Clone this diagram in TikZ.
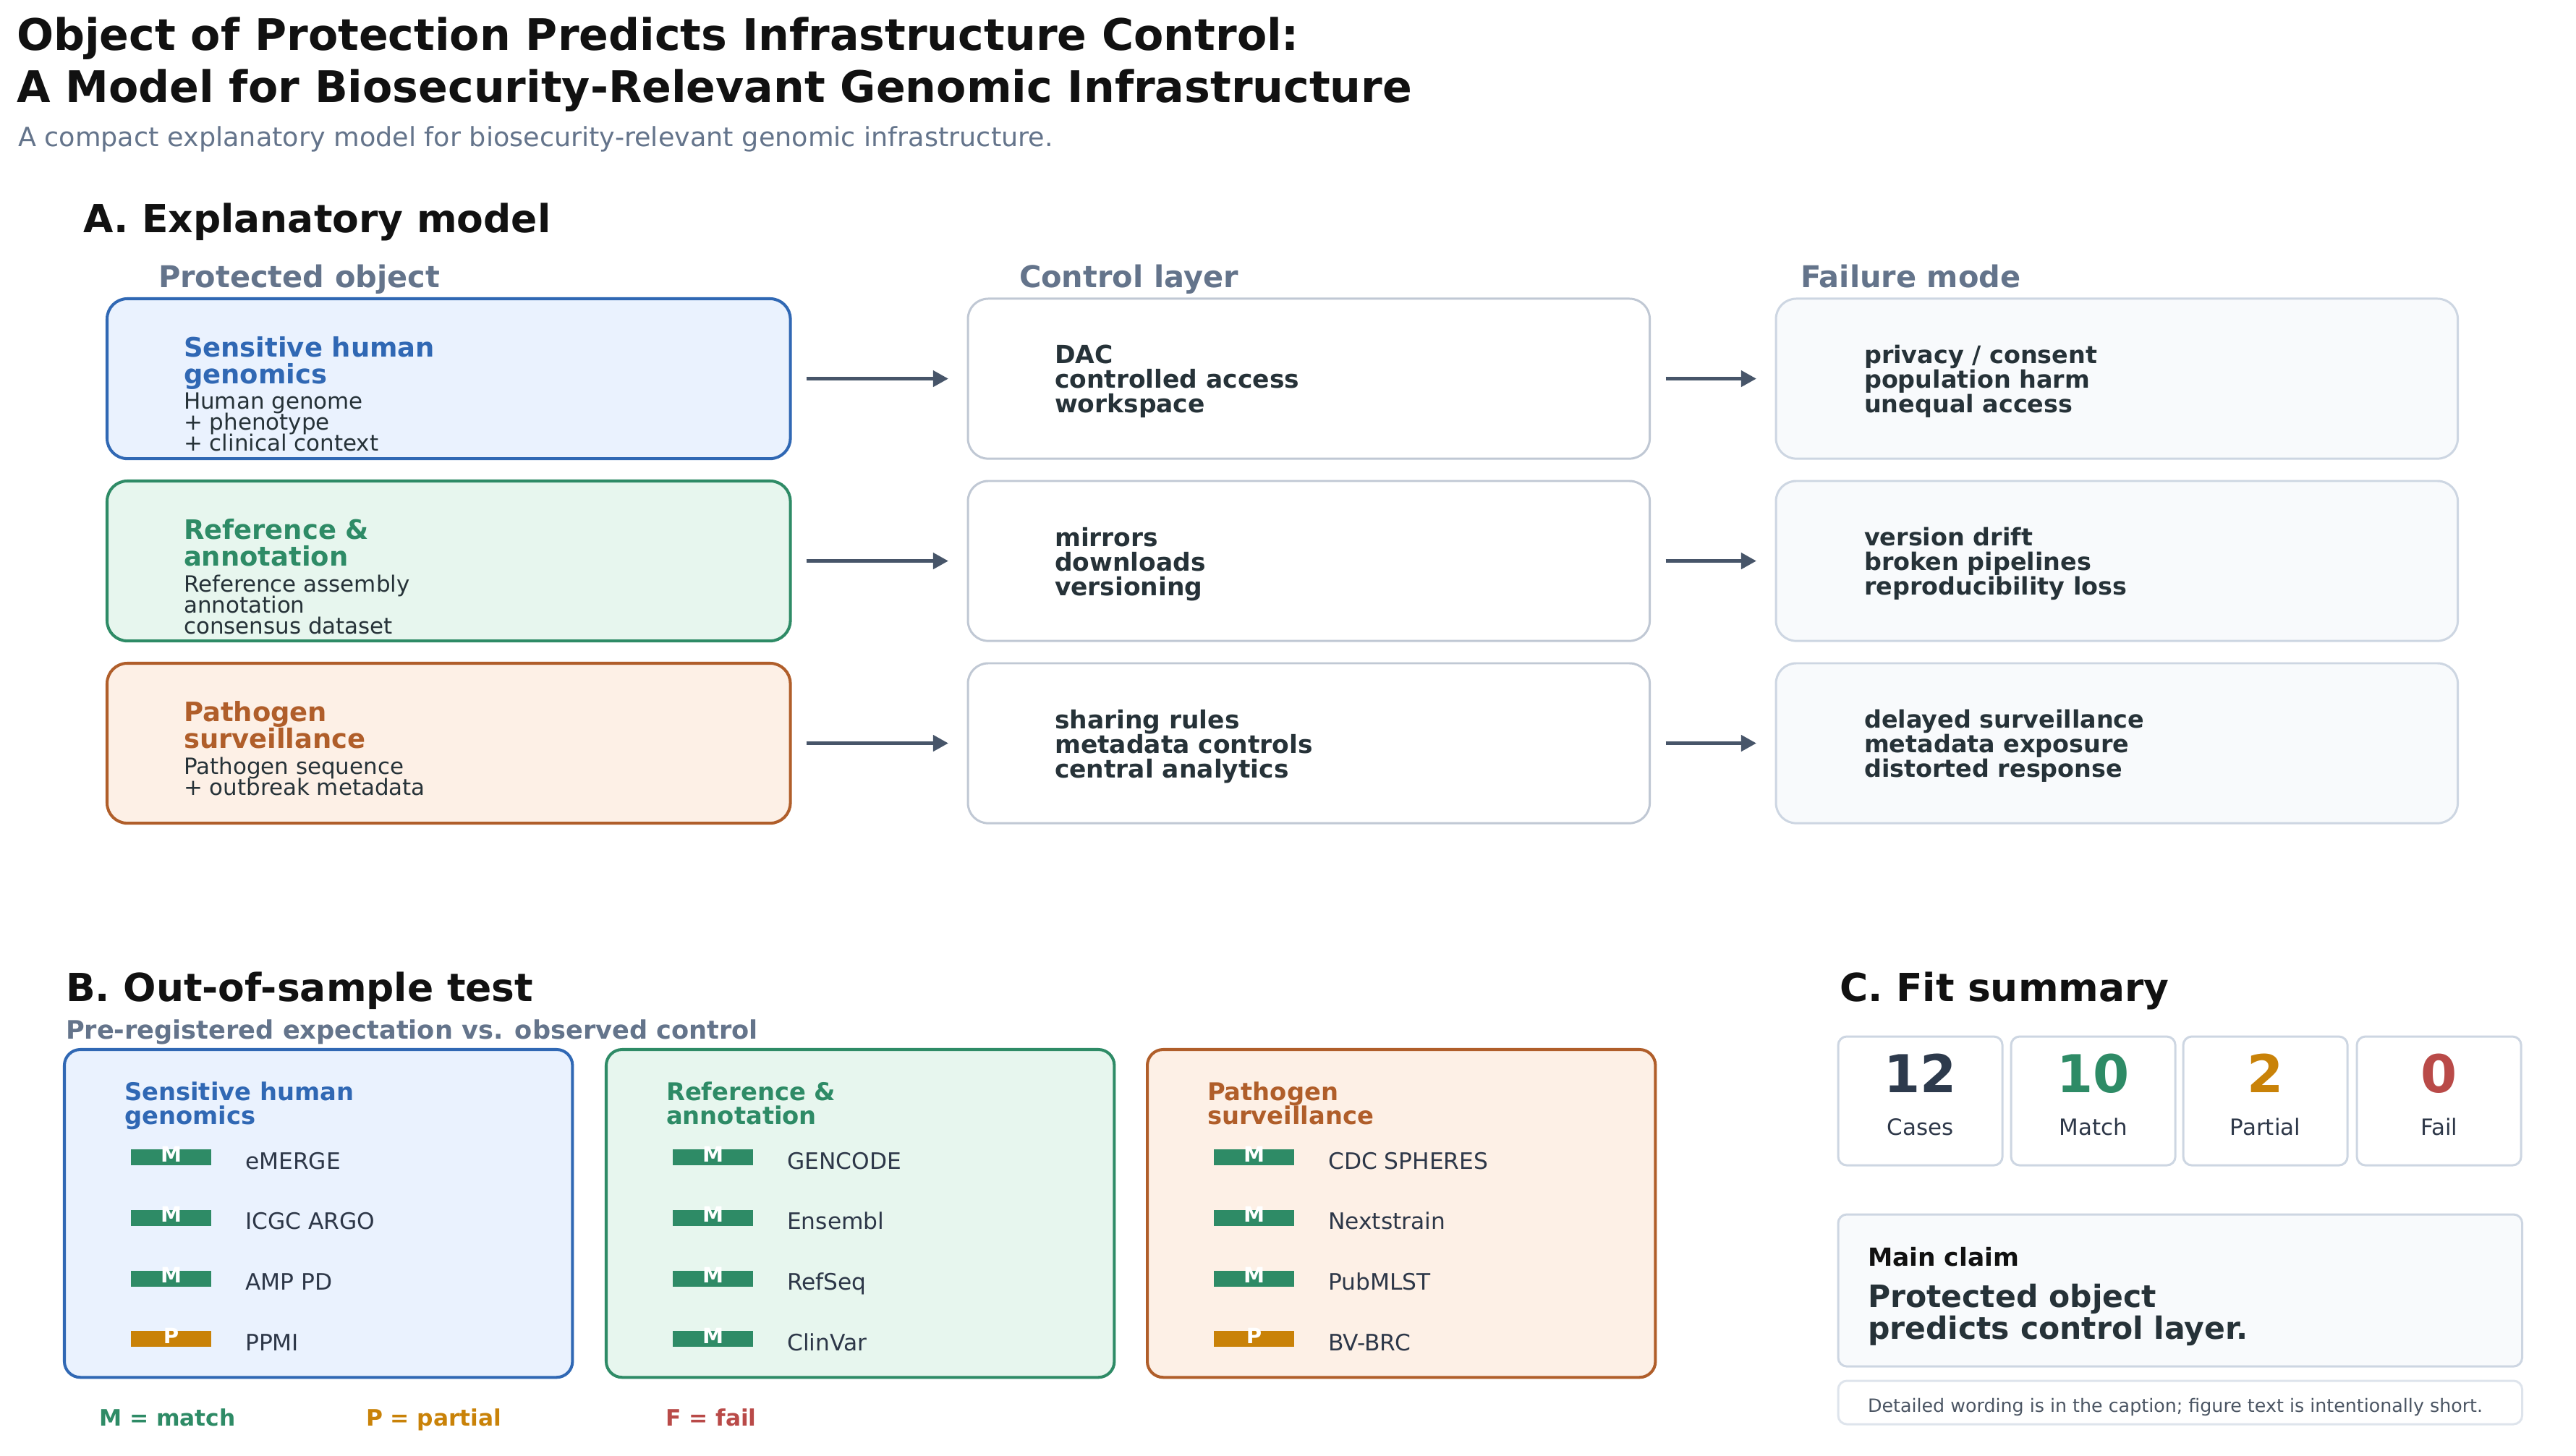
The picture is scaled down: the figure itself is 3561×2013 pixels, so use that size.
\documentclass[tikz,border=0pt]{standalone}
\usepackage{fontspec}
\setmainfont{DejaVu Sans}
\definecolor{noir}{RGB}{17,17,17}
\definecolor{encre}{RGB}{38,50,56}
\definecolor{texte}{RGB}{45,55,72}
\definecolor{nuit}{RGB}{45,58,76}
\definecolor{ardoise}{RGB}{71,85,105}
\definecolor{ardoiseclair}{RGB}{100,116,139}
\definecolor{gris}{RGB}{75,85,99}
\definecolor{bleu}{RGB}{48,104,180}
\definecolor{bleuclair}{RGB}{234,242,254}
\definecolor{vert}{RGB}{46,139,102}
\definecolor{vertclair}{RGB}{231,246,238}
\definecolor{brique}{RGB}{176,94,42}
\definecolor{briqueclair}{RGB}{253,240,230}
\definecolor{ocre}{RGB}{201,130,8}
\definecolor{rouge}{RGB}{185,74,72}
\definecolor{grisbord}{RGB}{192,200,212}
\definecolor{grisclair}{RGB}{205,214,226}
\definecolor{grisnote}{RGB}{222,228,236}
\definecolor{fondgris}{RGB}{248,250,252}
\usetikzlibrary{arrows.meta,positioning}
\newcommand{\fsz}[2]{\fontsize{#1pt}{#2pt}\selectfont\lineskiplimit=-20pt\relax}
\begin{document}
\begin{tikzpicture}[x=0.01cm,y=-0.01cm,
	every node/.style={inner sep=0pt,outer sep=0pt},
	ligne/.style={anchor=base west},
	bloc/.style={anchor=north west,align=left},
	objet/.style={draw,rounded corners=0.28cm,line width=1.15pt,anchor=north west,
		minimum width=9.44cm,minimum height=2.21cm},
	controle/.style={draw=grisbord,fill=white,rounded corners=0.28cm,line width=0.85pt,
		anchor=north west,minimum width=9.42cm,minimum height=2.21cm},
	echec/.style={controle,draw=grisclair,fill=fondgris},
	fleche/.style={-{Triangle[length=6pt,width=6.2pt]},ardoise,line width=1.4pt,
		shorten <=0.22cm,shorten >=0.27cm},
	cas/.style={draw,rounded corners=0.22cm,line width=1.15pt,anchor=north west,
		minimum width=7.02cm,minimum height=4.53cm},
	pastille/.style={anchor=north west,minimum width=1.11cm,minimum height=0.22cm,
		text height=0.17cm,text depth=0.05cm,text=white,font=\bfseries\fsz{8.3}{8.3}},
	nomcas/.style={anchor=base west,text=texte,font=\fsz{8.9}{8.9}},
	stat/.style={draw=grisclair,fill=white,rounded corners=0.12cm,line width=0.85pt,
		anchor=north west,minimum width=2.27cm,minimum height=1.78cm}]
	\path[use as bounding box,fill=white](0,0) rectangle (3561,2013);
	\node[bloc,font=\bfseries\fsz{17.1}{20.5},text=noir]
	(titre) at (23,24){Object of Protection Predicts Infrastructure Control:\\A Model for Biosecurity-Relevant Genomic Infrastructure};
	\node[ligne,font=\fsz{10.4}{10.4},text=ardoiseclair]
	(soustitre) at (25,203){A compact explanatory model for biosecurity-relevant genomic infrastructure.};
	\node[ligne,font=\bfseries\fsz{15.2}{15.2},text=noir] (secA) at (115,322){A. Explanatory model};
	\node[ligne,font=\bfseries\fsz{11.8}{11.8},text=ardoiseclair] (hO) at (219,398){Protected object};
	\node[ligne,font=\bfseries\fsz{11.8}{11.8},text=ardoiseclair] (hC) at (1409,398){Control layer};
	\node[ligne,font=\bfseries\fsz{11.8}{11.8},text=ardoiseclair] (hF) at (2489,398){Failure mode};
	\node[objet,draw=bleu,fill=bleuclair] (O1) at (148,413){};
	\node[objet,draw=vert,fill=vertclair] (O2) at (148,665){};
	\node[objet,draw=brique,fill=briqueclair] (O3) at (148,917){};
	\node[controle] (C1) at (1338,413){};
	\node[controle] (C2) at (1338,665){};
	\node[controle] (C3) at (1338,917){};
	\node[echec] (F1) at (2455,413){};
	\node[echec] (F2) at (2455,665){};
	\node[echec] (F3) at (2455,917){};
	\node[bloc,font=\bfseries\fsz{10.5}{10.5},text=bleu]
	(tO1) at ([xshift=1.06cm,yshift=-0.52cm]O1.north west){Sensitive human\\genomics};
	\node[bloc,font=\fsz{8.8}{8.3},text=encre]
	(dO1) at ([xshift=1.06cm,yshift=-1.295cm]O1.north west){Human genome\\+ phenotype\\+ clinical context};
	\node[bloc,font=\bfseries\fsz{10.5}{10.5},text=vert]
	(tO2) at ([xshift=1.06cm,yshift=-0.52cm]O2.north west){Reference \&\\annotation};
	\node[bloc,font=\fsz{8.8}{8.3},text=encre]
	(dO2) at ([xshift=1.06cm,yshift=-1.295cm]O2.north west){Reference assembly\\annotation\\consensus dataset};
	\node[bloc,font=\bfseries\fsz{10.5}{10.5},text=brique]
	(tO3) at ([xshift=1.06cm,yshift=-0.52cm]O3.north west){Pathogen\\surveillance};
	\node[bloc,font=\fsz{8.8}{8.3},text=encre]
	(dO3) at ([xshift=1.06cm,yshift=-1.295cm]O3.north west){Pathogen sequence\\+ outbreak metadata};
	\node[bloc,font=\bfseries\fsz{9.8}{9.7},text=encre]
	(tC1) at ([xshift=1.2cm,yshift=-0.64cm]C1.north west){DAC\\controlled access\\workspace};
	\node[bloc,font=\bfseries\fsz{9.8}{9.7},text=encre]
	(tC2) at ([xshift=1.2cm,yshift=-0.64cm]C2.north west){mirrors\\downloads\\versioning};
	\node[bloc,font=\bfseries\fsz{9.8}{9.7},text=encre]
	(tC3) at ([xshift=1.2cm,yshift=-0.64cm]C3.north west){sharing rules\\metadata controls\\central analytics};
	\node[bloc,font=\bfseries\fsz{9.5}{9.7},text=encre]
	(tF1) at ([xshift=1.22cm,yshift=-0.64cm]F1.north west){privacy / consent\\population harm\\unequal access};
	\node[bloc,font=\bfseries\fsz{9.5}{9.7},text=encre]
	(tF2) at ([xshift=1.22cm,yshift=-0.64cm]F2.north west){version drift\\broken pipelines\\reproducibility loss};
	\node[bloc,font=\bfseries\fsz{9.5}{9.7},text=encre]
	(tF3) at ([xshift=1.22cm,yshift=-0.64cm]F3.north west){delayed surveillance\\metadata exposure\\distorted response};
	\draw[fleche](O1)--(C1);
	\draw[fleche](O2)--(C2);
	\draw[fleche](O3)--(C3);
	\draw[fleche](C1)--(F1);
	\draw[fleche](C2)--(F2);
	\draw[fleche](C3)--(F3);
	\node[ligne,font=\bfseries\fsz{15.2}{15.2},text=noir] (secB) at (91,1384){B. Out-of-sample test};
	\node[ligne,font=\bfseries\fsz{10}{10},text=ardoiseclair]
	(sousB) at (91,1436){Pre-registered expectation vs. observed control};
	\node[cas,draw=bleu,fill=bleuclair] (B1) at (89,1451){};
	\node[cas,draw=vert,fill=vertclair] (B2) at (838,1451){};
	\node[cas,draw=brique,fill=briqueclair] (B3) at (1586,1451){};
	\node[bloc,font=\bfseries\fsz{9.6}{9.4},text=bleu]
	(tB1) at ([xshift=0.83cm,yshift=-0.45cm]B1.north west){Sensitive human\\genomics};
	\node[bloc,font=\bfseries\fsz{9.6}{9.4},text=vert]
	(tB2) at ([xshift=0.83cm,yshift=-0.45cm]B2.north west){Reference \&\\annotation};
	\node[bloc,font=\bfseries\fsz{9.6}{9.4},text=brique]
	(tB3) at ([xshift=0.83cm,yshift=-0.45cm]B3.north west){Pathogen\\surveillance};
	\node[pastille,fill=vert] (p11) at ([xshift=0.92cm,yshift=-1.38cm]B1.north west){M};
	\node[pastille,fill=vert] (p12) at ([xshift=0.92cm,yshift=-2.217cm]B1.north west){M};
	\node[pastille,fill=vert] (p13) at ([xshift=0.92cm,yshift=-3.054cm]B1.north west){M};
	\node[pastille,fill=ocre] (p14) at ([xshift=0.92cm,yshift=-3.891cm]B1.north west){P};
	\node[pastille,fill=vert] (p21) at ([xshift=0.92cm,yshift=-1.38cm]B2.north west){M};
	\node[pastille,fill=vert] (p22) at ([xshift=0.92cm,yshift=-2.217cm]B2.north west){M};
	\node[pastille,fill=vert] (p23) at ([xshift=0.92cm,yshift=-3.054cm]B2.north west){M};
	\node[pastille,fill=vert] (p24) at ([xshift=0.92cm,yshift=-3.891cm]B2.north west){M};
	\node[pastille,fill=vert] (p31) at ([xshift=0.92cm,yshift=-1.38cm]B3.north west){M};
	\node[pastille,fill=vert] (p32) at ([xshift=0.92cm,yshift=-2.217cm]B3.north west){M};
	\node[pastille,fill=vert] (p33) at ([xshift=0.92cm,yshift=-3.054cm]B3.north west){M};
	\node[pastille,fill=ocre] (p34) at ([xshift=0.92cm,yshift=-3.891cm]B3.north west){P};
	\node[nomcas] (n11) at ([xshift=1.58cm,yshift=-0.27cm]p11.north west){eMERGE};
	\node[nomcas] (n12) at ([xshift=1.58cm,yshift=-0.27cm]p12.north west){ICGC ARGO};
	\node[nomcas] (n13) at ([xshift=1.58cm,yshift=-0.27cm]p13.north west){AMP PD};
	\node[nomcas] (n14) at ([xshift=1.58cm,yshift=-0.27cm]p14.north west){PPMI};
	\node[nomcas] (n21) at ([xshift=1.58cm,yshift=-0.27cm]p21.north west){GENCODE};
	\node[nomcas] (n22) at ([xshift=1.58cm,yshift=-0.27cm]p22.north west){Ensembl};
	\node[nomcas] (n23) at ([xshift=1.58cm,yshift=-0.27cm]p23.north west){RefSeq};
	\node[nomcas] (n24) at ([xshift=1.58cm,yshift=-0.27cm]p24.north west){ClinVar};
	\node[nomcas] (n31) at ([xshift=1.58cm,yshift=-0.27cm]p31.north west){CDC SPHERES};
	\node[nomcas] (n32) at ([xshift=1.58cm,yshift=-0.27cm]p32.north west){Nextstrain};
	\node[nomcas] (n33) at ([xshift=1.58cm,yshift=-0.27cm]p33.north west){PubMLST};
	\node[nomcas] (n34) at ([xshift=1.58cm,yshift=-0.27cm]p34.north west){BV-BRC};
	\node[ligne,font=\bfseries\fsz{8.9}{8.9},text=vert] (lgM) at (137,1971){M = match};
	\node[ligne,font=\bfseries\fsz{8.9}{8.9},text=ocre] (lgP) at (506,1971){P = partial};
	\node[ligne,font=\bfseries\fsz{8.9}{8.9},text=rouge] (lgF) at (920,1971){F = fail};
	\node[ligne,font=\bfseries\fsz{15.2}{15.2},text=noir] (secC) at (2543,1384){C. Fit summary};
	\node[stat] (S1) at (2541,1433){};
	\node[stat] (S2) at (2780,1433){};
	\node[stat] (S3) at (3018,1433){};
	\node[stat] (S4) at (3258,1433){};
	\node[anchor=base,font=\bfseries\fsz{20.5}{20.5},text=nuit] (v1) at ([yshift=-0.77cm]S1.north){12};
	\node[anchor=base,font=\bfseries\fsz{20.5}{20.5},text=vert] (v2) at ([yshift=-0.77cm]S2.north){10};
	\node[anchor=base,font=\bfseries\fsz{20.5}{20.5},text=ocre] (v3) at ([yshift=-0.77cm]S3.north){2};
	\node[anchor=base,font=\bfseries\fsz{20.5}{20.5},text=rouge] (v4) at ([yshift=-0.77cm]S4.north){0};
	\node[anchor=base,font=\fsz{8.8}{8.8},text=texte] (e1) at ([yshift=-1.36cm]S1.north){Cases};
	\node[anchor=base,font=\fsz{8.8}{8.8},text=texte] (e2) at ([yshift=-1.36cm]S2.north){Match};
	\node[anchor=base,font=\fsz{8.8}{8.8},text=texte] (e3) at ([yshift=-1.36cm]S3.north){Partial};
	\node[anchor=base,font=\fsz{8.8}{8.8},text=texte] (e4) at ([yshift=-1.36cm]S4.north){Fail};
	\node[stat,fill=fondgris,minimum width=9.45cm,minimum height=2.1cm] (MC) at (2541,1679){};
	\node[ligne,font=\bfseries\fsz{9.8}{9.8},text=noir]
	(tMC) at ([xshift=0.41cm,yshift=-0.71cm]MC.north west){Main claim};
	\node[bloc,font=\bfseries\fsz{12.1}{12.5},text=encre]
	(dMC) at ([xshift=0.41cm,yshift=-0.96cm]MC.north west){Protected object\\predicts control layer.};
	\node[stat,draw=grisnote,minimum width=9.45cm,minimum height=0.6cm] (NT) at (2541,1909){};
	\node[ligne,font=\fsz{7.2}{7.2},text=gris]
	(tNT) at ([xshift=0.41cm,yshift=-0.43cm]NT.north west){Detailed wording is in the caption; figure text is intentionally short.};
\end{tikzpicture}
\end{document}
